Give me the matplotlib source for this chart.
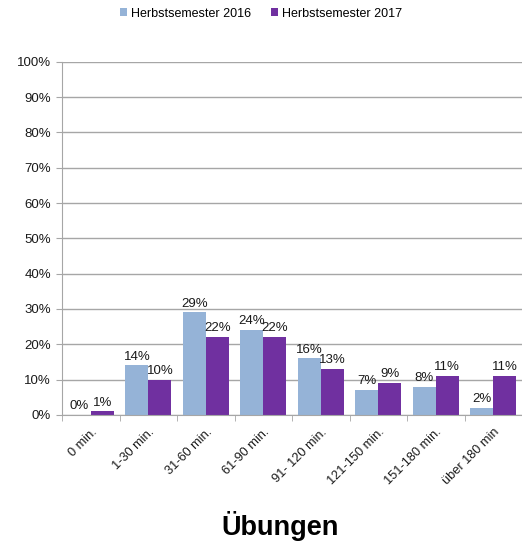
import numpy as np
import matplotlib.pyplot as plt
from matplotlib.ticker import FuncFormatter

plt.rcParams['font.family'] = ['Liberation Sans', 'DejaVu Sans']

categories = ["0 min.", "1-30 min.", "31-60 min.", "61-90 min.", "91- 120 min.",
              "121-150 min.", "151-180 min.", "über 180 min"]
hs2016 = [0, 14, 29, 24, 16, 7, 8, 2]
hs2017 = [1, 10, 22, 22, 13, 9, 11, 11]

c2016 = "#95b3d7"
c2017 = "#7030a0"
grey = "#a6a6a6"

fig = plt.figure(figsize=(5.22, 5.43), dpi=100)
ax = fig.add_axes([0.119, 0.236, 0.881, 0.650])

x = np.arange(len(categories))
w = 0.4
b1 = ax.bar(x - w / 2, hs2016, w, color=c2016, label="Herbstsemester 2016", zorder=3)
b2 = ax.bar(x + w / 2, hs2017, w, color=c2017, label="Herbstsemester 2017", zorder=3)

for bars, vals in ((b1, hs2016), (b2, hs2017)):
    for rect, v in zip(bars, vals):
        ax.annotate(f"{v}%", (rect.get_x() + rect.get_width() / 2, v),
                    xytext=(0, 2), textcoords="offset points",
                    ha="center", va="bottom", fontsize=9.5, color="#1a1a1a",
                    annotation_clip=False)

ax.set_ylim(0, 100)
ax.set_yticks(np.arange(0, 101, 10))
ax.yaxis.set_major_formatter(FuncFormatter(lambda v, p: f"{int(v)}%"))
ax.set_xlim(-0.5, 7.36)

# category labels centred, tick marks between categories
ax.set_xticks(x)
ax.set_xticklabels(categories, rotation=45, ha="right", rotation_mode="anchor",
                   fontsize=9.2, color="#1a1a1a")
ax.set_xticks(np.arange(-0.5, 8, 1), minor=True)
ax.tick_params(axis="x", which="major", length=0, pad=8)
ax.tick_params(axis="x", which="minor", length=4, color=grey, direction="out")
ax.tick_params(axis="y", length=4, color=grey, labelsize=9.5, labelcolor="#1a1a1a", pad=4)

ax.grid(axis="y", color=grey, linewidth=1, zorder=0)
for s in ("top", "right"):
    ax.spines[s].set_visible(False)
for s in ("left", "bottom"):
    ax.spines[s].set_color(grey)
    ax.spines[s].set_zorder(4)

fig.legend(handles=[b1, b2], loc="center", bbox_to_anchor=(0.5, 0.975), ncol=2,
           frameon=False, fontsize=9, handlelength=0.55, handleheight=0.55,
           handletextpad=0.3, columnspacing=1.6)

fig.text(0.536, 0.032, "Übungen", ha="center", va="center", fontsize=19.5, fontweight="bold")

fig.savefig("out.png", dpi=100)
